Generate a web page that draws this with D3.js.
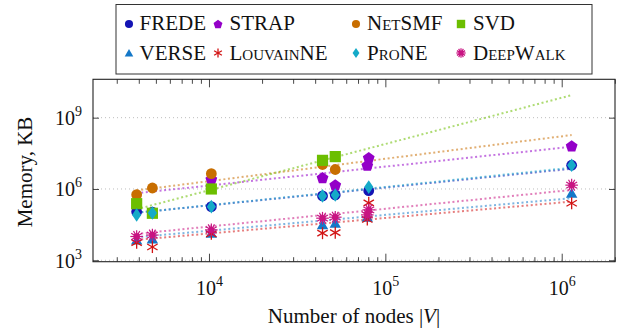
<!DOCTYPE html>
<html><head><meta charset="utf-8">
<script src="https://cdn.jsdelivr.net/npm/d3@7"></script>
<style>
html,body{margin:0;padding:0;background:#fff;}
svg{display:block;}
text{font-family:"Liberation Serif","DejaVu Serif",serif;}
</style></head>
<body><svg id="c" width="622" height="333"></svg>
<script>
// ---- data ----
const nodes = [3890, 4777, 10312, 44034, 52000, 79000, 80513, 1138499];
const seriesNames = ["FREDE","STRAP","NetSMF","SVD","VERSE","LouvainNE","ProNE","DeepWalk"];
const frede     = [1.1e5, 1.07e5, 1.8e5, 5.1e5, 5.6e5, null, 8.5e5, 1.0e7];
const strap     = [null, null, 2.6e6, 3.0e6, 1.48e6, 1.0e7, 2.1e7, 6.5e7];
const netsmf    = [5.75e5, 1.1e6, 4.4e6, 1.07e7, 6.6e6, null, null, null];
const svd       = [2.4e5, 9.5e4, 1.0e6, 1.6e7, 2.3e7, null, null, null];
const verse     = [7.1e3, 7.9e3, 1.38e4, 3.1e4, 3.6e4, 6.5e4, null, 6.6e5];
const louvainne = [5.5e3, 3.6e3, 1.29e4, 1.38e4, 1.45e4, 5.2e4, 2.6e5, 2.5e5];
const prone     = [8.1e4, 9.8e4, 1.8e5, 5.1e5, 5.6e5, null, 1.2e6, 1.0e7];
const deepwalk  = [1.0e4, 1.15e4, 1.9e4, 5.9e4, 6.5e4, 8.1e4, 1.32e5, 1.45e6];
// fitted trend lines: memory at the first and last node counts
const trendNodes = [3890, 1138499];
const trendFrede     = [1.0e5, 7.1e6];
const trendStrap     = [6.6e5, 6.0e7];
const trendNetsmf    = [8.7e5, 1.86e8];
const trendSvd       = [1.4e5, 8.9e9];
const trendVerse     = [9.3e3, 4.1e5];
const trendLouvainne = [7.2e3, 2.95e5];
const trendProne     = [1.0e5, 7.9e6];
const trendDeepwalk  = [1.29e4, 9.1e5];
const xTicks = [1e4, 1e5, 1e6];
const xTickExp = ["4","5","6"];
const yTicks = [1e3, 1e6, 1e9];
const yTickExp = ["3","6","9"];

const colors = ["#1414b4","#9400c8","#c86e00","#6cbe00","#1478c8","#d21414","#14aac8","#c81482"];
const shapes = ["circle","pentagon","circle","square","triangle","asterisk","diamond","burst"];
const values = [frede, strap, netsmf, svd, verse, louvainne, prone, deepwalk];
const trends = [trendFrede, trendStrap, trendNetsmf, trendSvd, trendVerse, trendLouvainne, trendProne, trendDeepwalk];

const FONT = "Liberation Serif, DejaVu Serif, serif";
const svg = d3.select("#c");
const L = 93, R = 615, T = 79.3, B = 261.7;
const x = d3.scaleLog().domain([2200, 2.005e6]).range([L, R]);
const y = d3.scaleLog().domain([870, 4.12e10]).range([B, T]);

// grid
svg.append("g").selectAll("line").data(yTicks).join("line")
  .attr("x1", L).attr("x2", R).attr("y1", d => y(d)).attr("y2", d => y(d))
  .attr("stroke", "#bdbdbd").attr("stroke-width", 1).attr("stroke-dasharray", "1,3");

// minor x ticks
const minors = [];
[1e3, 1e4, 1e5, 1e6].forEach(p => { for (let k = 2; k <= 9; k++) { const v = p * k; if (v > 2200 && v < 2.005e6) minors.push(v); } });
const axB = svg.append("g").attr("transform", `translate(0,${B})`)
  .call(d3.axisBottom(x).tickValues(minors).tickSizeInner(-4.5).tickSizeOuter(0).tickFormat(""));
const axT = svg.append("g").attr("transform", `translate(0,${T})`)
  .call(d3.axisTop(x).tickValues(minors).tickSizeInner(-4.5).tickSizeOuter(0).tickFormat(""));
const axB2 = svg.append("g").attr("transform", `translate(0,${B})`)
  .call(d3.axisBottom(x).tickValues(xTicks).tickSizeInner(-8).tickSizeOuter(0).tickPadding(14).tickFormat(() => "10"));
const axT2 = svg.append("g").attr("transform", `translate(0,${T})`)
  .call(d3.axisTop(x).tickValues(xTicks).tickSizeInner(-8).tickSizeOuter(0).tickFormat(""));
const axL = svg.append("g").attr("transform", `translate(${L},0)`)
  .call(d3.axisLeft(y).tickValues(yTicks).tickSizeInner(-6).tickSizeOuter(0).tickPadding(16).tickFormat(() => "10"));
const axR = svg.append("g").attr("transform", `translate(${R},0)`)
  .call(d3.axisRight(y).tickValues(yTicks).tickSizeInner(-6).tickSizeOuter(0).tickFormat(""));
[axB, axT, axB2, axT2, axL, axR].forEach(g => {
  g.attr("font-family", FONT);
  g.select(".domain").remove();
  g.selectAll(".tick line").attr("stroke", "#333").attr("stroke-width", 0.9);
});
axB2.selectAll(".tick text").attr("font-size", 20).attr("fill", "#111")
  .attr("font-family", FONT).attr("dy", null).attr("y", 0)
  .attr("transform", "translate(0,33)").attr("text-anchor", "middle")
  .each(function(d, i) {
    const t = d3.select(this); t.text("");
    t.append("tspan").text("10");
    t.append("tspan").attr("font-size", 14).attr("dy", -9).text(xTickExp[i]);
  });
axL.selectAll(".tick text").attr("font-size", 20).attr("fill", "#111")
  .attr("font-family", FONT).attr("dy", null).attr("x", -11).attr("y", 7)
  .attr("text-anchor", "end")
  .each(function(d, i) {
    const t = d3.select(this); t.text("");
    t.append("tspan").text("10");
    t.append("tspan").attr("font-size", 14).attr("dy", -9).text(yTickExp[i]);
  });

// frame
svg.append("rect").attr("x", L).attr("y", T).attr("width", R - L).attr("height", B - T)
  .attr("fill", "none").attr("stroke", "#222").attr("stroke-width", 1.1);

// trend lines
const lineGen = d3.line().x(d => x(d[0])).y(d => y(d[1]));
const tg = svg.append("g");
trends.forEach((t, i) => {
  tg.append("path").attr("d", lineGen(trendNodes.map((n, k) => [n, t[k]])))
    .attr("fill", "none").attr("stroke", colors[i]).attr("stroke-opacity", 0.55)
    .attr("stroke-width", 2).attr("stroke-dasharray", "2,2.6");
});

// marker drawing
function marker(g, shape, color, cx, cy, s) {
  if (shape === "circle") {
    g.append("circle").attr("cx", cx).attr("cy", cy).attr("r", 5.4 * s).attr("fill", color);
  } else if (shape === "square") {
    const h = 5.6 * s;
    g.append("rect").attr("x", cx - h).attr("y", cy - h).attr("width", 2 * h).attr("height", 2 * h).attr("fill", color);
  } else if (shape === "pentagon") {
    const r = 6.2 * s;
    const pts = d3.range(5).map(k => { const a = -Math.PI / 2 + k * 2 * Math.PI / 5; return [cx + r * Math.cos(a), cy + r * Math.sin(a) + 0.6 * s]; });
    g.append("polygon").attr("points", pts.map(p => p.join(",")).join(" ")).attr("fill", color);
  } else if (shape === "triangle") {
    const r = 6.6 * s;
    const pts = d3.range(3).map(k => { const a = -Math.PI / 2 + k * 2 * Math.PI / 3; return [cx + r * Math.cos(a), cy + r * Math.sin(a) + 1.2 * s]; });
    g.append("polygon").attr("points", pts.map(p => p.join(",")).join(" ")).attr("fill", color);
  } else if (shape === "diamond") {
    const w = 4.6 * s, h = 6.8 * s;
    g.append("polygon").attr("points", `${cx},${cy - h} ${cx + w},${cy} ${cx},${cy + h} ${cx - w},${cy}`).attr("fill", color);
  } else if (shape === "asterisk") {
    const r = 6 * s;
    [90, 30, -30].forEach(a => {
      const ra = a * Math.PI / 180;
      g.append("line").attr("x1", cx - r * Math.cos(ra)).attr("y1", cy - r * Math.sin(ra))
        .attr("x2", cx + r * Math.cos(ra)).attr("y2", cy + r * Math.sin(ra))
        .attr("stroke", color).attr("stroke-width", 1.3);
    });
  } else if (shape === "burst") {
    const r = 6.3 * s;
    d3.range(6).forEach(k => {
      const ra = k * Math.PI / 6;
      g.append("line").attr("x1", cx - r * Math.cos(ra)).attr("y1", cy - r * Math.sin(ra))
        .attr("x2", cx + r * Math.cos(ra)).attr("y2", cy + r * Math.sin(ra))
        .attr("stroke", color).attr("stroke-width", 1.2);
    });
    g.append("circle").attr("cx", cx).attr("cy", cy).attr("r", 3.2 * s).attr("fill", color);
  }
}

const mg = svg.append("g");
values.forEach((vals, i) => {
  vals.forEach((v, k) => {
    if (v == null) return;
    marker(mg, shapes[i], colors[i], x(nodes[k]), y(v), 1);
  });
});

// legend
const lg = svg.append("g");
lg.append("rect").attr("x", 116).attr("y", 4.5).attr("width", 476).attr("height", 69.5)
  .attr("fill", "#fff").attr("stroke", "#333").attr("stroke-width", 1);
const legMarkX = [129, 218, 356, 461];
const legTextX = [139.5, 229.5, 367, 473];
const legRowY = [24, 53];
const legBase = [29.5, 59.5];
seriesNames.forEach((name, i) => {
  const row = Math.floor(i / 4), col = i % 4;
  marker(lg, shapes[i], colors[i], legMarkX[col], legRowY[row], 0.75);
  const sc = ["NetSMF","LouvainNE","ProNE","DeepWalk"].includes(name);
  lg.append("text").attr("x", legTextX[col]).attr("y", legBase[row])
    .attr("font-family", FONT).attr("font-size", 21).attr("fill", "#111")
    .style("font-variant", sc ? "small-caps" : "normal").text(name);
});

// axis titles
svg.append("text").attr("transform", "translate(32,172) rotate(-90)")
  .attr("font-family", FONT).attr("text-anchor", "middle").attr("font-size", 21).attr("fill", "#111").text("Memory, KB");
const xl = svg.append("text").attr("x", 354).attr("y", 323).attr("text-anchor", "middle")
  .attr("font-family", FONT).attr("font-size", 21).attr("fill", "#111");
xl.append("tspan").text("Number of nodes |");
xl.append("tspan").attr("font-style", "italic").text("V");
xl.append("tspan").text("|");
</script>
</body></html>
